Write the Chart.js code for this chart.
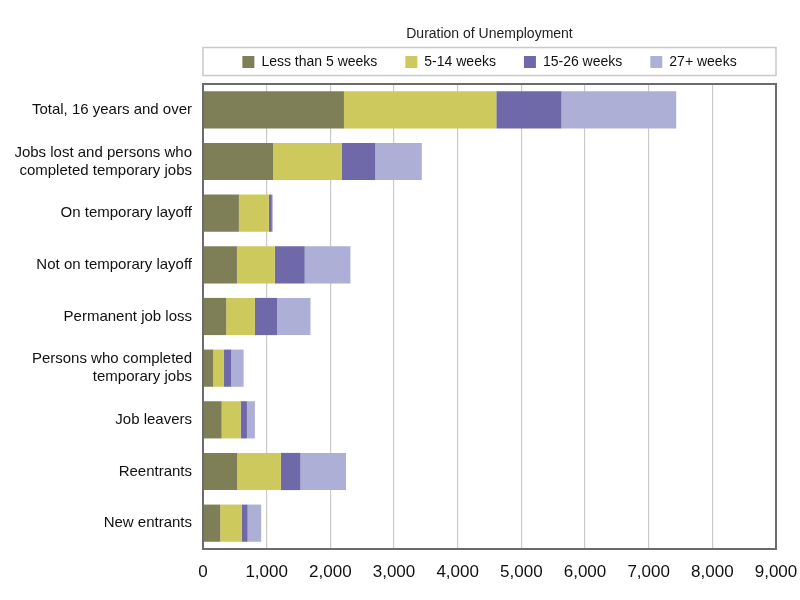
<!DOCTYPE html>
<html>
<head>
<meta charset="utf-8">
<script src="https://cdn.jsdelivr.net/npm/chart.js@4.4.1/dist/chart.umd.min.js"></script>
<style>
  html, body { margin: 0; padding: 0; background: #fff; }
  #wrap { width: 800px; height: 600px; }
</style>
</head>
<body>
<div id="wrap"><canvas id="c" width="800" height="600"></canvas></div>
<script>
const categories = [
  "Total, 16 years and over",
  ["Jobs lost and persons who", "completed temporary jobs"],
  "On temporary layoff",
  "Not on temporary layoff",
  "Permanent job loss",
  ["Persons who completed", "temporary jobs"],
  "Job leavers",
  "Reentrants",
  "New entrants"
];
const seriesNames = ["Less than 5 weeks", "5-14 weeks", "15-26 weeks", "27+ weeks"];
const lessThan5 = [2214, 1102, 564, 533, 365, 161, 293, 538, 271];
const weeks5to14 = [2393, 1081, 470, 595, 450, 163, 298, 684, 335];
const weeks15to26 = [1024, 523, 47, 470, 349, 120, 99, 309, 95];
const weeks27plus = [1802, 731, 15, 717, 524, 194, 125, 715, 213];
const xTickLabels = ["0", "1,000", "2,000", "3,000", "4,000", "5,000", "6,000", "7,000", "8,000", "9,000"];
const legendTitle = "Duration of Unemployment";

const colors = ["#7f7f57", "#cec95c", "#6f69a9", "#aeafd7"];
const FONT = '"Liberation Sans", Arial, Helvetica, sans-serif';
Chart.defaults.font.family = FONT;
Chart.defaults.color = "#111";

const frameColor = "#6b6b6b";

const framePlugin = {
  id: "framePlugin",
  afterDraw(chart) {
    const ctx = chart.ctx;
    const a = chart.chartArea;
    ctx.save();
    ctx.strokeStyle = frameColor;
    ctx.lineWidth = 2;
    ctx.strokeRect(a.left, a.top, a.right - a.left, a.bottom - a.top);
    // legend border box
    const lg = chart.legend;
    if (lg) {
      const center = lg.top + 38;
      ctx.strokeStyle = "#c9c9c9";
      ctx.lineWidth = 1.5;
      ctx.strokeRect(a.left, center - 14.5, a.right - a.left, 28);
    }
    ctx.restore();
  }
};

const seriesData = [lessThan5, weeks5to14, weeks15to26, weeks27plus];
const datasets = seriesNames.map((name, i) => ({
  label: name,
  data: seriesData[i],
  backgroundColor: colors[i],
  borderWidth: 0,
  barPercentage: 0.72,
  categoryPercentage: 1.0
}));

new Chart(document.getElementById("c"), {
  type: "bar",
  data: { labels: categories, datasets: datasets },
  plugins: [framePlugin],
  options: {
    indexAxis: "y",
    responsive: false,
    animation: false,
    layout: { padding: { left: 0, right: 24, top: 24, bottom: 0 } },
    scales: {
      x: {
        stacked: true,
        min: 0,
        max: 9000,
        ticks: {
          stepSize: 1000,
          padding: 13,
          font: { size: 17 },
          color: "#111",
          maxRotation: 0,
          callback: (v) => xTickLabels[Math.round(v / 1000)]
        },
        grid: { color: "#cacaca", lineWidth: 1.2, drawTicks: false },
        border: { color: frameColor, width: 2 },
        afterFit(scale) {
          scale.height = 51;
          scale.paddingLeft = 0;
          scale.paddingRight = 0;
        }
      },
      y: {
        stacked: true,
        ticks: { padding: 11, font: { size: 15 }, color: "#111" },
        grid: { display: false, drawTicks: false },
        border: { color: frameColor, width: 2 },
        afterFit(scale) { scale.width = 203; }
      }
    },
    plugins: {
      legend: {
        position: "top",
        fullSize: false,
        align: "center",
        title: {
          display: true,
          text: legendTitle,
          color: "#222",
          font: { size: 14 },
          padding: { top: 3, bottom: -16.8 }
        },
        labels: {
          boxWidth: 12,
          boxHeight: 12,
          padding: 28,
          color: "#111",
          font: { size: 14 }
        }
      },
      subtitle: {
        display: true,
        text: "",
        weight: 500,
        fullSize: false,
        padding: 0,
        font: { size: 5, lineHeight: 1 }
      },
      tooltip: { enabled: false }
    }
  }
});
</script>
</body>
</html>
